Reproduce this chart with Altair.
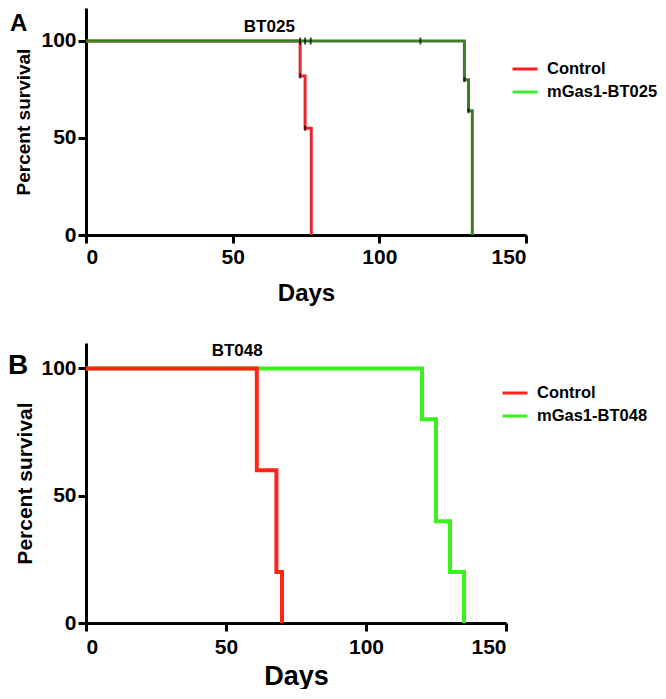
import altair as alt
import pandas as pd

FONT = "Liberation Sans"

# ---------------- Panel A data ----------------
a_groups = ["Control", "mGas1-BT025"]
a_ctrl_days = [0, 73.0, 74.7, 76.8]
a_ctrl_surv = [100, 82, 55, 0]
a_gas_days = [0, 129.0, 130.4, 131.7]
a_gas_surv = [100, 80, 64, 0]
a_censor_days = [73.0, 74.7, 76.6, 114.0]
a_censor_surv = [100, 100, 100, 100]
a_event_days = [73.0, 74.7, 129.0, 130.4]
a_event_surv = [82, 55, 80, 64]
a_label = "BT025"

# ---------------- Panel B data ----------------
b_groups = ["Control", "mGas1-BT048"]
b_ctrl_days = [0, 61, 68, 70]
b_ctrl_surv = [100, 60, 20, 0]
b_gas_days = [0, 120, 125, 130, 135]
b_gas_surv = [100, 80, 40, 20, 0]
b_label = "BT048"

x_ticks = [0, 50, 100, 150]
y_ticks = [0, 50, 100]


def curves(groups, ctrl_d, ctrl_s, gas_d, gas_s):
    rows = []
    for d, s in zip(ctrl_d, ctrl_s):
        rows.append({"group": groups[0], "day": d, "surv": s})
    for d, s in zip(gas_d, gas_s):
        rows.append({"group": groups[1], "day": d, "surv": s})
    return pd.DataFrame(rows)


def axes(ymax, label_fs, xtitle_fs, ytitle_fs, xlab_pad, xtitle_pad, ytitle_pad):
    xenc = alt.X(
        "day:Q",
        scale=alt.Scale(domain=[0, 150], nice=False),
        axis=alt.Axis(
            values=x_ticks, title="Days", grid=False,
            domainColor="black", domainWidth=3, tickColor="black", tickWidth=3, tickSize=8,
            labelFont=FONT, labelFontSize=label_fs, labelFontWeight="bold", labelColor="black",
            labelPadding=xlab_pad, titleFont=FONT, titleFontSize=xtitle_fs, titleFontWeight="bold",
            titleColor="black", titlePadding=xtitle_pad,
        ),
    )
    yenc = alt.Y(
        "surv:Q",
        scale=alt.Scale(domain=[0, ymax], nice=False),
        axis=alt.Axis(
            values=y_ticks, title="Percent survival", grid=False,
            domainColor="black", domainWidth=3, tickColor="black", tickWidth=3, tickSize=8,
            labelFont=FONT, labelFontSize=label_fs, labelFontWeight="bold", labelColor="black",
            labelPadding=2, titleFont=FONT, titleFontSize=ytitle_fs, titleFontWeight="bold",
            titleColor="black", titlePadding=ytitle_pad,
        ),
    )
    return xenc, yenc


def panel(df, groups, line_colors, legend_colors, width, height, ymax, stroke_w,
          label_fs, xtitle_fs, ytitle_fs, xlab_pad, xtitle_pad, ytitle_pad,
          legend_x, legend_y, legend_fs, letter, letter_fs, letter_x, letter_y,
          title_text, title_day, title_surv, top_group, extra=None):
    xenc, yenc = axes(ymax, label_fs, xtitle_fs, ytitle_fs, xlab_pad, xtitle_pad, ytitle_pad)
    order_vals = [g for g in groups if g != top_group] + [top_group]
    lines = []
    for g in order_vals:
        lines.append(
            alt.Chart(df[df["group"] == g]).mark_line(interpolate="step-after", strokeWidth=stroke_w, clip=False)
            .encode(
                x=xenc, y=yenc,
                color=alt.Color("group:N", scale=alt.Scale(domain=groups, range=line_colors), legend=None),
                order="day:Q",
            )
        )
    legend_layer = alt.Chart(df).mark_line(opacity=0).encode(
        x=xenc, y=yenc,
        stroke=alt.Stroke(
            "group:N",
            scale=alt.Scale(domain=groups, range=legend_colors),
            legend=alt.Legend(
                title=None, orient="none", legendX=legend_x, legendY=legend_y,
                symbolType="stroke", symbolSize=625, symbolStrokeWidth=3, symbolOpacity=1,
                labelFont=FONT, labelFontSize=legend_fs, labelFontWeight="bold", labelColor="black",
                labelOffset=8, rowPadding=0, padding=0,
            ),
        ),
        detail="group:N",
    )
    ann = pd.DataFrame({"t": [title_text], "day": [title_day], "surv": [title_surv]})
    title_layer = alt.Chart(ann).mark_text(
        font=FONT, fontSize=17, fontWeight="bold", color="black", align="center", baseline="middle"
    ).encode(x=xenc, y=yenc, text="t:N")
    letter_df = pd.DataFrame({"t": [letter]})
    letter_layer = alt.Chart(letter_df).mark_text(
        font=FONT, fontSize=letter_fs, fontWeight="bold", color="black", align="left", baseline="top"
    ).encode(x=alt.value(letter_x), y=alt.value(letter_y), text="t:N")
    layers = [legend_layer] + lines
    if extra is not None:
        layers += extra(xenc, yenc)
    layers += [title_layer, letter_layer]
    return alt.layer(*layers).properties(width=width, height=height).resolve_scale(color="independent", stroke="independent")


def a_extra(xenc, yenc):
    cens = pd.DataFrame({"day": a_censor_days, "surv": a_censor_surv})
    ev = pd.DataFrame({"day": a_event_days, "surv": a_event_surv})
    return [
        alt.Chart(cens).mark_tick(orient="vertical", color="black", size=7, thickness=2).encode(x=xenc, y=yenc),
        alt.Chart(ev).mark_tick(orient="vertical", color="black", size=5, thickness=2).encode(x=xenc, y=yenc),
    ]


dfA = curves(a_groups, a_ctrl_days, a_ctrl_surv, a_gas_days, a_gas_surv)
dfB = curves(b_groups, b_ctrl_days, b_ctrl_surv, b_gas_days, b_gas_surv)

chartA = panel(
    dfA, a_groups, ["#e8262e", "#3c7d26"], ["#ff1a1a", "#33ee33"],
    width=440, height=227, ymax=117, stroke_w=3,
    label_fs=21, xtitle_fs=24, ytitle_fs=19, xlab_pad=3, xtitle_pad=14, ytitle_pad=7,
    legend_x=425, legend_y=47, legend_fs=16.5, letter="A", letter_fs=24, letter_x=-76, letter_y=4,
    title_text=a_label, title_day=62.5, title_surv=107, top_group=a_groups[1], extra=a_extra,
)

chartB = panel(
    dfB, b_groups, ["#ff2414", "#3cef1e"], ["#ff2414", "#3cef1e"],
    width=420, height=280, ymax=110, stroke_w=4,
    label_fs=21, xtitle_fs=27, ytitle_fs=21, xlab_pad=5, xtitle_pad=6, ytitle_pad=5,
    legend_x=415, legend_y=36, legend_fs=16.5, letter="B", letter_fs=28, letter_x=-78, letter_y=9,
    title_text=b_label, title_day=54, title_surv=107, top_group=b_groups[0],
)

chart = alt.vconcat(chartA, chartB, spacing=36).resolve_scale(
    color="independent", stroke="independent", x="independent", y="independent"
).resolve_legend(color="independent", stroke="independent").configure_view(stroke=None).properties(
    padding={"left": 0, "top": 0, "right": 0, "bottom": 0}
)

chart.save("out.html", embed_options={"renderer": "svg", "actions": False})
